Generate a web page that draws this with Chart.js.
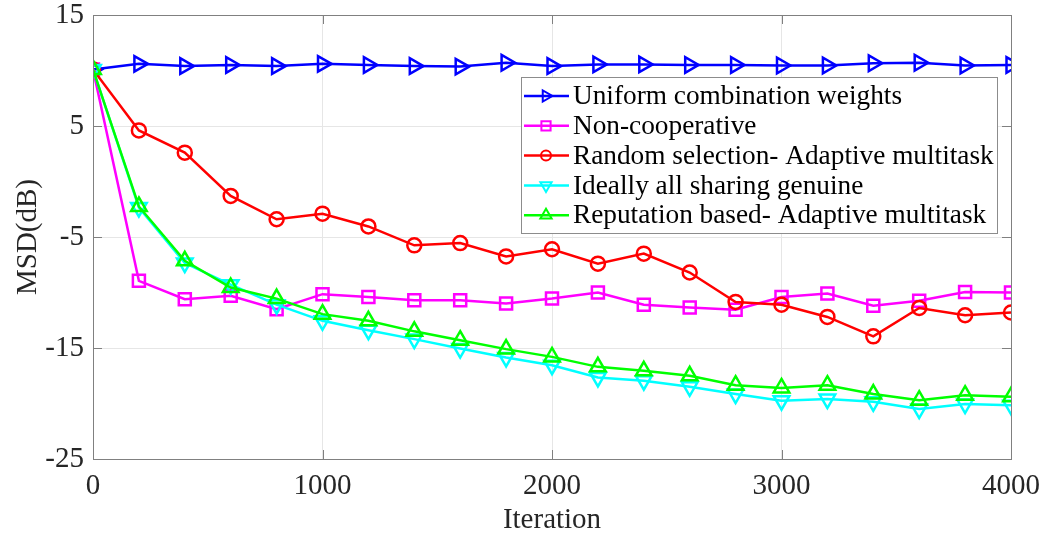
<!DOCTYPE html>
<html>
<head>
<meta charset="utf-8">
<script src="https://cdn.jsdelivr.net/npm/chart.js@4/dist/chart.umd.min.js"></script>
<style>
  body { margin: 0; background: #fff; }
  canvas { display: block; }
</style>
</head>
<body>
<canvas id="msdChart" width="1048" height="539"></canvas>
<script>
// Iterations and MSD values (dB)
const iterations = [0, 200, 400, 600, 800, 1000, 1200, 1400, 1600, 1800, 2000,
                    2200, 2400, 2600, 2800, 3000, 3200, 3400, 3600, 3800, 4000];

const uniformWeights = [10.1, 10.6, 10.4, 10.5, 10.4, 10.6, 10.5, 10.4, 10.35, 10.7, 10.4,
                        10.55, 10.55, 10.5, 10.5, 10.45, 10.45, 10.65, 10.7, 10.45, 10.5];
const nonCooperative = [10.1, -8.95, -10.6, -10.3, -11.5, -10.15, -10.4, -10.7, -10.7, -11.0, -10.55,
                        -10.0, -11.1, -11.35, -11.55, -10.4, -10.1, -11.2, -10.75, -9.95, -10.0];
const randomSelection = [10.1, 4.6, 2.6, -1.3, -3.4, -2.9, -4.05, -5.75, -5.55, -6.75, -6.1,
                         -7.4, -6.5, -8.2, -10.85, -11.1, -12.2, -13.95, -11.4, -12.05, -11.8];
const ideallyGenuine = [10.1, -2.35, -7.35, -9.3, -11.1, -12.55, -13.4, -14.2, -15.05, -15.85, -16.55,
                        -17.65, -17.95, -18.5, -19.15, -19.75, -19.6, -19.85, -20.5, -20.05, -20.15];
const reputationBased = [10.1, -2.25, -7.15, -9.55, -10.55, -11.95, -12.55, -13.5, -14.3, -15.1, -15.8,
                         -16.7, -17.05, -17.5, -18.35, -18.6, -18.35, -19.15, -19.7, -19.25, -19.4];

const seriesLabels = ['Uniform combination weights', 'Non-cooperative',
                      'Random selection- Adaptive multitask', 'Ideally all sharing genuine',
                      'Reputation based- Adaptive multitask'];
const xTicks = [0, 1000, 2000, 3000, 4000];
const yTicks = [-25, -15, -5, 5, 15];

const serif = '"Liberation Serif", "Times New Roman", serif';

function toPoints(values) {
    return values.map((v, i) => ({ x: iterations[i], y: v }));
}

function makeSet(label, values, color, style, rotation, radius, order) {
    return {
        label: label,
        data: toPoints(values),
        borderColor: color,
        backgroundColor: color,
        borderWidth: 2.5,
        pointStyle: style,
        pointRotation: rotation,
        pointRadius: radius,
        pointBorderWidth: 2.5,
        pointBackgroundColor: 'rgba(0,0,0,0)',
        pointBorderColor: color,
        tension: 0,
        fill: false,
        order: order
    };
}

const datasets = [
    makeSet(seriesLabels[0], uniformWeights, '#0000ff', 'triangle', 90, 9, 5),
    makeSet(seriesLabels[1], nonCooperative, '#ff00ff', 'rect', 0, 8.5, 4),
    makeSet(seriesLabels[2], randomSelection, '#ff0000', 'circle', 0, 7, 3),
    makeSet(seriesLabels[3], ideallyGenuine, '#00ffff', 'triangle', 180, 9, 2),
    makeSet(seriesLabels[4], reputationBased, '#00ff00', 'triangle', 0, 9, 1)
];

// Box around the plot area with inward ticks, like the MATLAB axes
const axesBox = {
    id: 'axesBox',
    afterDraw(chart) {
        const { ctx, chartArea: a } = chart;
        const xs = chart.scales.x, ys = chart.scales.y;
        ctx.save();
        ctx.strokeStyle = '#808080';
        ctx.lineWidth = 1;
        ctx.strokeRect(a.left + 0.5, a.top + 0.5, a.right - a.left, a.bottom - a.top);
        ctx.beginPath();
        xTicks.forEach(v => {
            const px = Math.round(xs.getPixelForValue(v)) + 0.5;
            ctx.moveTo(px, a.bottom); ctx.lineTo(px, a.bottom - 9);
            ctx.moveTo(px, a.top); ctx.lineTo(px, a.top + 9);
        });
        yTicks.forEach(v => {
            const py = Math.round(ys.getPixelForValue(v)) + 0.5;
            ctx.moveTo(a.left, py); ctx.lineTo(a.left + 9, py);
            ctx.moveTo(a.right, py); ctx.lineTo(a.right - 9, py);
        });
        ctx.stroke();
        ctx.restore();
    }
};

// Legend box in the upper right, drawn over the lines
const boxLegend = {
    id: 'boxLegend',
    afterDraw(chart) {
        const ctx = chart.ctx;
        const left = 521, top = 77, width = 476, height = 156;
        ctx.save();
        ctx.fillStyle = '#ffffff';
        ctx.fillRect(left, top, width, height);
        ctx.strokeStyle = '#8c8c8c';
        ctx.lineWidth = 1;
        ctx.strokeRect(left + 0.5, top + 0.5, width, height);
        ctx.font = '27.3px ' + serif;
        ctx.textBaseline = 'middle';
        chart.data.datasets.forEach((ds, i) => {
            const y = 96 + i * 29.8;
            ctx.strokeStyle = ds.borderColor;
            ctx.lineWidth = 2.5;
            ctx.beginPath();
            ctx.moveTo(524, y);
            ctx.lineTo(569, y);
            ctx.stroke();
            ctx.fillStyle = 'rgba(0,0,0,0)';
            ctx.lineWidth = 2;
            Chart.helpers.drawPoint(ctx, {
                pointStyle: ds.pointStyle,
                rotation: ds.pointRotation,
                radius: ds.pointStyle === 'circle' ? 5 : 6.5,
                borderWidth: 2
            }, 546, y);
            ctx.fillStyle = '#000000';
            ctx.fillText(ds.label, 573, y + 1);
        });
        ctx.restore();
    }
};

new Chart(document.getElementById('msdChart').getContext('2d'), {
    type: 'line',
    data: { datasets: datasets },
    options: {
        responsive: false,
        animation: false,
        layout: { padding: { top: 15, right: 37, left: 0, bottom: 0 } },
        plugins: { legend: { display: false }, tooltip: { enabled: false } },
        scales: {
            x: {
                type: 'linear',
                min: 0,
                max: 4000,
                afterFit(scale) {
                    scale.height = 80;
                    scale.paddingLeft = 0;
                    scale.paddingRight = 0;
                },
                afterBuildTicks(scale) { scale.ticks = xTicks.map(v => ({ value: v })); },
                grid: { color: '#e6e6e6', drawTicks: false },
                border: { color: '#808080' },
                ticks: {
                    color: '#262626',
                    padding: 10,
                    maxRotation: 0,
                    callback: v => String(v),
                    font: { family: serif, size: 29 }
                },
                title: {
                    display: true,
                    text: 'Iteration',
                    color: '#262626',
                    font: { family: serif, size: 29, lineHeight: 1 },
                    padding: { top: 0, bottom: 4 }
                }
            },
            y: {
                min: -25,
                max: 15,
                afterFit(scale) {
                    scale.width = 93;
                    scale.paddingTop = 0;
                    scale.paddingBottom = 0;
                },
                afterBuildTicks(scale) { scale.ticks = yTicks.map(v => ({ value: v })); },
                grid: { color: '#e6e6e6', drawTicks: false },
                border: { color: '#808080' },
                ticks: {
                    color: '#262626',
                    padding: 9,
                    callback: v => String(v),
                    font: { family: serif, size: 29 }
                },
                title: {
                    display: true,
                    text: 'MSD(dB)',
                    color: '#262626',
                    font: { family: serif, size: 29, lineHeight: 1 },
                    padding: { top: 14, bottom: 0 }
                }
            }
        }
    },
    plugins: [axesBox, boxLegend]
});
</script>
</body>
</html>
